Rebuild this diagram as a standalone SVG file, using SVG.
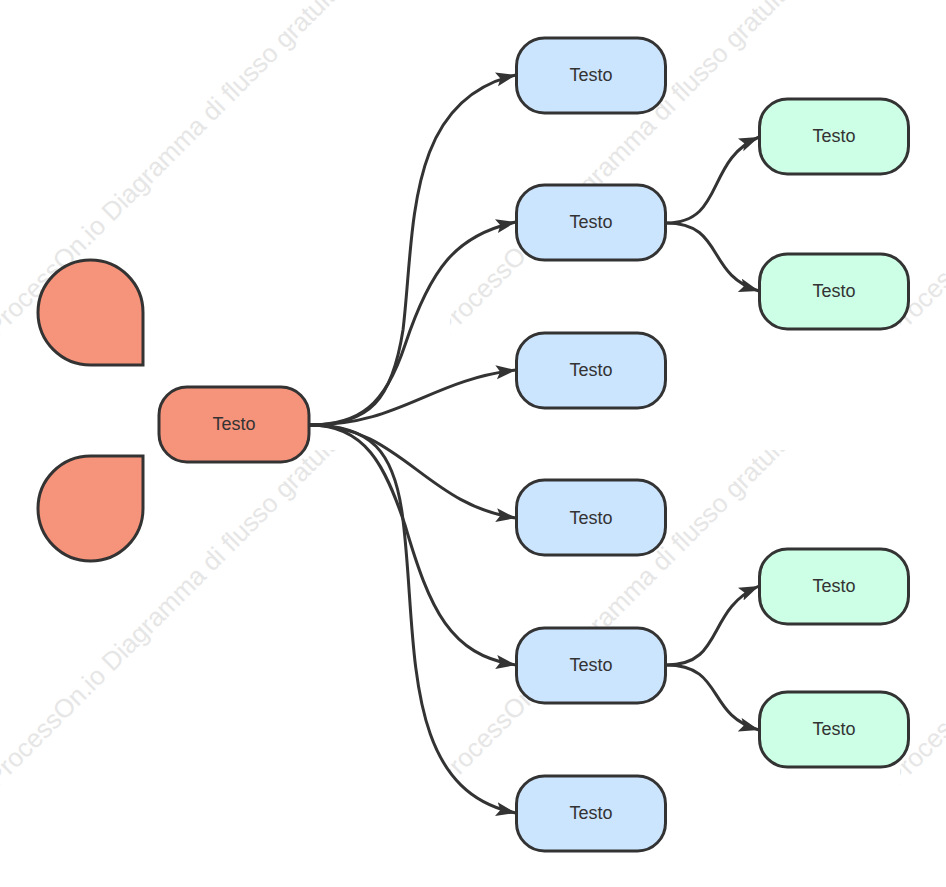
<svg xmlns="http://www.w3.org/2000/svg" width="946" height="887" viewBox="0 0 946 887">
<style>
.wm{font:26px "Liberation Sans",Arial,sans-serif;fill:#e6e6e6}
.n{stroke:#333;stroke-width:3}
.r{fill:#f6937b}.b{fill:#cce5ff}.g{fill:#ccffe6}
.l{font:18px "Liberation Sans",Arial,sans-serif;fill:#333;text-anchor:middle}
.c{fill:none;stroke:#333;stroke-width:3;marker-end:url(#a)}
</style>
<defs>
<marker id="a" markerUnits="userSpaceOnUse" markerWidth="22" markerHeight="16" refX="20" refY="7" orient="auto"><path d="M0,0L20,7L0,14L4,7Z" fill="#333"/></marker>
<clipPath id="t"><rect width="450" height="450"/></clipPath>
</defs>
<rect width="946" height="887" fill="#fff"/>
<g id="watermark">
<g clip-path="url(#t)"><text class="wm" transform="translate(-3,338) rotate(-45)">ProcessOn.io Diagramma di flusso gratuito</text></g>
<g transform="translate(450,0)" clip-path="url(#t)"><text class="wm" transform="translate(-3,338) rotate(-45)">ProcessOn.io Diagramma di flusso gratuito</text></g>
<g transform="translate(900,0)" clip-path="url(#t)"><text class="wm" transform="translate(-3,338) rotate(-45)">ProcessOn.io Diagramma di flusso gratuito</text></g>
<g transform="translate(0,450)" clip-path="url(#t)"><text class="wm" transform="translate(-3,338) rotate(-45)">ProcessOn.io Diagramma di flusso gratuito</text></g>
<g transform="translate(450,450)" clip-path="url(#t)"><text class="wm" transform="translate(-3,338) rotate(-45)">ProcessOn.io Diagramma di flusso gratuito</text></g>
<g transform="translate(900,450)" clip-path="url(#t)"><text class="wm" transform="translate(-3,338) rotate(-45)">ProcessOn.io Diagramma di flusso gratuito</text></g>
</g>
<g id="connectors">
<path class="c" d="M310,425C370,425 392,400 403,330C415,230 405,100 516,75"/>
<path class="c" d="M310,425C360,425 385,405 405,345C430,270 455,235 516,222"/>
<path class="c" d="M310,425C400,425 430,380 516,370"/>
<path class="c" d="M310,425C400,425 425,505 516,518"/>
<path class="c" d="M310,425C365,425 385,465 405,525C430,610 450,655 516,665"/>
<path class="c" d="M310,425C370,425 395,450 403,520C418,640 400,790 516,813"/>
<path class="c" d="M666,223C725,223 705,160 759,137"/>
<path class="c" d="M666,223C725,223 705,275 759,291"/>
<path class="c" d="M666,665C725,665 705,610 759,586"/>
<path class="c" d="M666,665C725,665 705,715 759,730"/>
</g>
<g id="drop1"><path class="n r" d="M143,365H90.500A52.500,52.500 0 1 1 143,312.500Z"/></g>
<g id="drop2"><path class="n r" d="M143,456H90.500A52.500,52.500 0 1 0 143,508.500Z"/></g>
<g id="root"><rect class="n r" x="159" y="387" width="150" height="75" rx="28"/><text class="l" x="234" y="430">Testo</text></g>
<g id="b1"><rect class="n b" x="516.500" y="38" width="149" height="75" rx="28"/><text class="l" x="591" y="81">Testo</text></g>
<g id="b2"><rect class="n b" x="516.500" y="185" width="149" height="75" rx="28"/><text class="l" x="591" y="228">Testo</text></g>
<g id="b3"><rect class="n b" x="516.500" y="333" width="149" height="75" rx="28"/><text class="l" x="591" y="376">Testo</text></g>
<g id="b4"><rect class="n b" x="516.500" y="480" width="149" height="75" rx="28"/><text class="l" x="591" y="524">Testo</text></g>
<g id="b5"><rect class="n b" x="516.500" y="628" width="149" height="75" rx="28"/><text class="l" x="591" y="671">Testo</text></g>
<g id="b6"><rect class="n b" x="516.500" y="776" width="149" height="75" rx="28"/><text class="l" x="591" y="819">Testo</text></g>
<g id="g1"><rect class="n g" x="759.500" y="99" width="149" height="75" rx="28"/><text class="l" x="834" y="142">Testo</text></g>
<g id="g2"><rect class="n g" x="759.500" y="254" width="149" height="75" rx="28"/><text class="l" x="834" y="297">Testo</text></g>
<g id="g3"><rect class="n g" x="759.500" y="549" width="149" height="75" rx="28"/><text class="l" x="834" y="592">Testo</text></g>
<g id="g4"><rect class="n g" x="759.500" y="692" width="149" height="75" rx="28"/><text class="l" x="834" y="735">Testo</text></g>
</svg>
